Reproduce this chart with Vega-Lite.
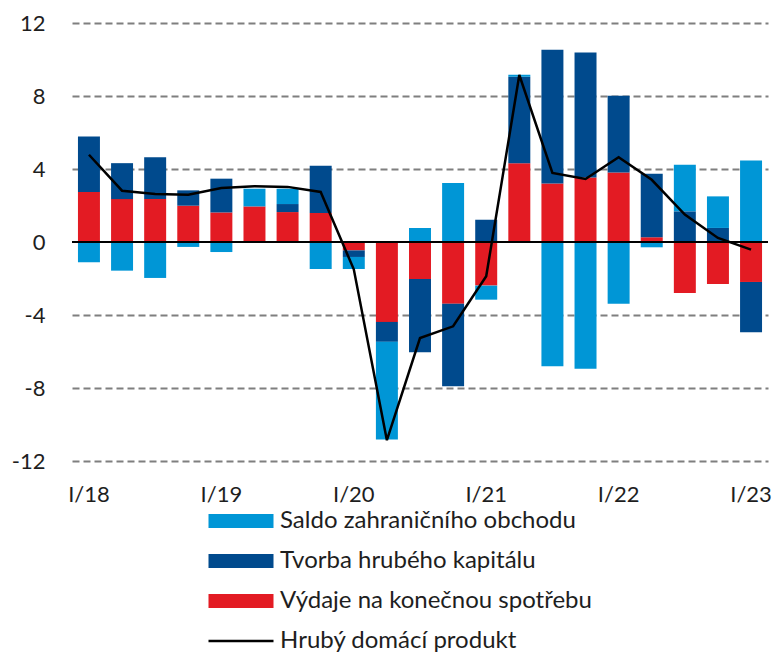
{
  "$schema": "https://vega.github.io/schema/vega-lite/v6.json",
  "width": 696,
  "height": 438,
  "autosize": {"type": "none"},
  "padding": {"left": 72, "top": 23, "right": 8, "bottom": 193},
  "background": "white",
  "config": {
    "view": {"stroke": null},
    "font": "Lato",
    "axis": {"labelFont": "Lato", "labelColor": "#1e1e1e", "labelFontSize": 22, "domain": false, "ticks": false, "tickSize": 0},
    "legend": {"labelFont": "Lato", "labelColor": "#1e1e1e", "labelFontSize": 24, "labelLimit": 0}
  },
  "datasets": {
    "parts": [
      {"q": "I/18", "s": "Výdaje na konečnou spotřebu", "v": 2.74},
      {"q": "I/18", "s": "Tvorba hrubého kapitálu", "v": 3.04},
      {"q": "I/18", "s": "Saldo zahraničního obchodu", "v": -1.11},
      {"q": "II/18", "s": "Výdaje na konečnou spotřebu", "v": 2.35},
      {"q": "II/18", "s": "Tvorba hrubého kapitálu", "v": 1.97},
      {"q": "II/18", "s": "Saldo zahraničního obchodu", "v": -1.57},
      {"q": "III/18", "s": "Výdaje na konečnou spotřebu", "v": 2.35},
      {"q": "III/18", "s": "Tvorba hrubého kapitálu", "v": 2.29},
      {"q": "III/18", "s": "Saldo zahraničního obchodu", "v": -1.97},
      {"q": "IV/18", "s": "Výdaje na konečnou spotřebu", "v": 1.99},
      {"q": "IV/18", "s": "Tvorba hrubého kapitálu", "v": 0.84},
      {"q": "IV/18", "s": "Saldo zahraničního obchodu", "v": -0.27},
      {"q": "I/19", "s": "Výdaje na konečnou spotřebu", "v": 1.62},
      {"q": "I/19", "s": "Tvorba hrubého kapitálu", "v": 1.85},
      {"q": "I/19", "s": "Saldo zahraničního obchodu", "v": -0.55},
      {"q": "II/19", "s": "Výdaje na konečnou spotřebu", "v": 1.95},
      {"q": "II/19", "s": "Tvorba hrubého kapitálu", "v": 0.0},
      {"q": "II/19", "s": "Saldo zahraničního obchodu", "v": 0.97},
      {"q": "III/19", "s": "Výdaje na konečnou spotřebu", "v": 1.64},
      {"q": "III/19", "s": "Tvorba hrubého kapitálu", "v": 0.44},
      {"q": "III/19", "s": "Saldo zahraničního obchodu", "v": 0.84},
      {"q": "IV/19", "s": "Výdaje na konečnou spotřebu", "v": 1.59},
      {"q": "IV/19", "s": "Tvorba hrubého kapitálu", "v": 2.59},
      {"q": "IV/19", "s": "Saldo zahraničního obchodu", "v": -1.48},
      {"q": "I/20", "s": "Výdaje na konečnou spotřebu", "v": -0.46},
      {"q": "I/20", "s": "Tvorba hrubého kapitálu", "v": -0.36},
      {"q": "I/20", "s": "Saldo zahraničního obchodu", "v": -0.66},
      {"q": "II/20", "s": "Výdaje na konečnou spotřebu", "v": -4.38},
      {"q": "II/20", "s": "Tvorba hrubého kapitálu", "v": -1.09},
      {"q": "II/20", "s": "Saldo zahraničního obchodu", "v": -5.35},
      {"q": "III/20", "s": "Výdaje na konečnou spotřebu", "v": -2.03},
      {"q": "III/20", "s": "Tvorba hrubého kapitálu", "v": -4.01},
      {"q": "III/20", "s": "Saldo zahraničního obchodu", "v": 0.77},
      {"q": "IV/20", "s": "Výdaje na konečnou spotřebu", "v": -3.39},
      {"q": "IV/20", "s": "Tvorba hrubého kapitálu", "v": -4.51},
      {"q": "IV/20", "s": "Saldo zahraničního obchodu", "v": 3.23},
      {"q": "I/21", "s": "Výdaje na konečnou spotřebu", "v": -2.39},
      {"q": "I/21", "s": "Tvorba hrubého kapitálu", "v": 1.22},
      {"q": "I/21", "s": "Saldo zahraničního obchodu", "v": -0.77},
      {"q": "II/21", "s": "Výdaje na konečnou spotřebu", "v": 4.32},
      {"q": "II/21", "s": "Tvorba hrubého kapitálu", "v": 4.74},
      {"q": "II/21", "s": "Saldo zahraničního obchodu", "v": 0.1},
      {"q": "III/21", "s": "Výdaje na konečnou spotřebu", "v": 3.21},
      {"q": "III/21", "s": "Tvorba hrubého kapitálu", "v": 7.32},
      {"q": "III/21", "s": "Saldo zahraničního obchodu", "v": -6.81},
      {"q": "IV/21", "s": "Výdaje na konečnou spotřebu", "v": 3.54},
      {"q": "IV/21", "s": "Tvorba hrubého kapitálu", "v": 6.84},
      {"q": "IV/21", "s": "Saldo zahraničního obchodu", "v": -6.95},
      {"q": "I/22", "s": "Výdaje na konečnou spotřebu", "v": 3.81},
      {"q": "I/22", "s": "Tvorba hrubého kapitálu", "v": 4.2},
      {"q": "I/22", "s": "Saldo zahraničního obchodu", "v": -3.39},
      {"q": "II/22", "s": "Výdaje na konečnou spotřebu", "v": 0.26},
      {"q": "II/22", "s": "Tvorba hrubého kapitálu", "v": 3.48},
      {"q": "II/22", "s": "Saldo zahraničního obchodu", "v": -0.29},
      {"q": "III/22", "s": "Výdaje na konečnou spotřebu", "v": -2.79},
      {"q": "III/22", "s": "Tvorba hrubého kapitálu", "v": 1.68},
      {"q": "III/22", "s": "Saldo zahraničního obchodu", "v": 2.55},
      {"q": "IV/22", "s": "Výdaje na konečnou spotřebu", "v": -2.3},
      {"q": "IV/22", "s": "Tvorba hrubého kapitálu", "v": 0.77},
      {"q": "IV/22", "s": "Saldo zahraničního obchodu", "v": 1.73},
      {"q": "I/23", "s": "Výdaje na konečnou spotřebu", "v": -2.19},
      {"q": "I/23", "s": "Tvorba hrubého kapitálu", "v": -2.76},
      {"q": "I/23", "s": "Saldo zahraničního obchodu", "v": 4.47}
    ],
    "hdp": [
      {"q": "I/18", "s": "Hrubý domácí produkt", "v": 4.78},
      {"q": "II/18", "s": "Hrubý domácí produkt", "v": 2.81},
      {"q": "III/18", "s": "Hrubý domácí produkt", "v": 2.63},
      {"q": "IV/18", "s": "Hrubý domácí produkt", "v": 2.59},
      {"q": "I/19", "s": "Hrubý domácí produkt", "v": 2.96},
      {"q": "II/19", "s": "Hrubý domácí produkt", "v": 3.06},
      {"q": "III/19", "s": "Hrubý domácí produkt", "v": 3.02},
      {"q": "IV/19", "s": "Hrubý domácí produkt", "v": 2.74},
      {"q": "I/20", "s": "Hrubý domácí produkt", "v": -1.5},
      {"q": "II/20", "s": "Hrubý domácí produkt", "v": -10.86},
      {"q": "III/20", "s": "Hrubý domácí produkt", "v": -5.26},
      {"q": "IV/20", "s": "Hrubý domácí produkt", "v": -4.62},
      {"q": "I/21", "s": "Hrubý domácí produkt", "v": -1.88},
      {"q": "II/21", "s": "Hrubý domácí produkt", "v": 9.15},
      {"q": "III/21", "s": "Hrubý domácí produkt", "v": 3.78},
      {"q": "IV/21", "s": "Hrubý domácí produkt", "v": 3.45},
      {"q": "I/22", "s": "Hrubý domácí produkt", "v": 4.64},
      {"q": "II/22", "s": "Hrubý domácí produkt", "v": 3.41},
      {"q": "III/22", "s": "Hrubý domácí produkt", "v": 1.5},
      {"q": "IV/22", "s": "Hrubý domácí produkt", "v": 0.22},
      {"q": "I/23", "s": "Hrubý domácí produkt", "v": -0.42}
    ]
  },
  "encoding": {
    "x": {
      "field": "q",
      "type": "ordinal",
      "sort": null,
      "title": null,
      "scale": {"paddingInner": 0.336, "paddingOuter": 0.18},
      "axis": {
        "labelAngle": 0,
        "labelPadding": 23,
        "labelExpr": "indexof(datum.label, 'I/') === 0 ? datum.label : ''",
        "grid": false
      }
    }
  },
  "layer": [
    {
      "data": {"name": "parts"},
      "mark": {"type": "bar"},
      "encoding": {
        "y": {
          "field": "v",
          "type": "quantitative",
          "stack": "zero",
          "title": null,
          "scale": {"domain": [-12, 12], "nice": false},
          "axis": {
            "values": [-12, -8, -4, 0, 4, 8, 12],
            "labelPadding": 27,
            "labelExpr": "'' + datum.value",
            "grid": true,
            "gridColor": {"condition": {"test": "datum.value === 0", "value": "transparent"}, "value": "#7f7f7f"},
            "gridDash": [7, 4],
            "gridWidth": 2
          }
        },
        "color": {
          "field": "s",
          "type": "nominal",
          "scale": {
            "domain": ["Saldo zahraničního obchodu", "Tvorba hrubého kapitálu", "Výdaje na konečnou spotřebu", "Hrubý domácí produkt"],
            "range": ["#0096D6", "#004A8D", "#E31B23", "#000000"]
          },
          "legend": {
            "title": null,
            "orient": "none",
            "legendX": 157,
            "legendY": 486,
            "padding": 0,
            "rowPadding": 16,
            "labelOffset": 27,
            "symbolType": "M-1,-0.215H1V0.215H-1Z",
            "symbolSize": 4225,
            "symbolStrokeWidth": 0,
            "encode": {
              "symbols": {
                "update": {
                  "shape": {"signal": "datum.value === 'Hrubý domácí produkt' ? 'M-1,0H1' : 'M-1,-0.215H1V0.215H-1Z'"},
                  "stroke": {"signal": "datum.value === 'Hrubý domácí produkt' ? '#000000' : 'transparent'"},
                  "strokeWidth": {"signal": "datum.value === 'Hrubý domácí produkt' ? 2.5 : 0"},
                  "fill": {"signal": "scale('color', datum.value)"}
                }
              }
            }
          }
        },
        "order": {"field": "s", "sort": "descending"}
      }
    },
    {
      "data": {"values": [{"z": 0}]},
      "mark": {"type": "rule", "color": "#000000", "strokeWidth": 2},
      "encoding": {"y": {"field": "z", "type": "quantitative"}, "x": {"value": 0}, "x2": {"value": 696}}
    },
    {
      "data": {"name": "hdp"},
      "mark": {"type": "line", "color": "#000000", "strokeWidth": 2.5, "interpolate": "linear"},
      "encoding": {
        "y": {"field": "v", "type": "quantitative"},
        "color": {"field": "s", "type": "nominal"}
      }
    }
  ]
}
